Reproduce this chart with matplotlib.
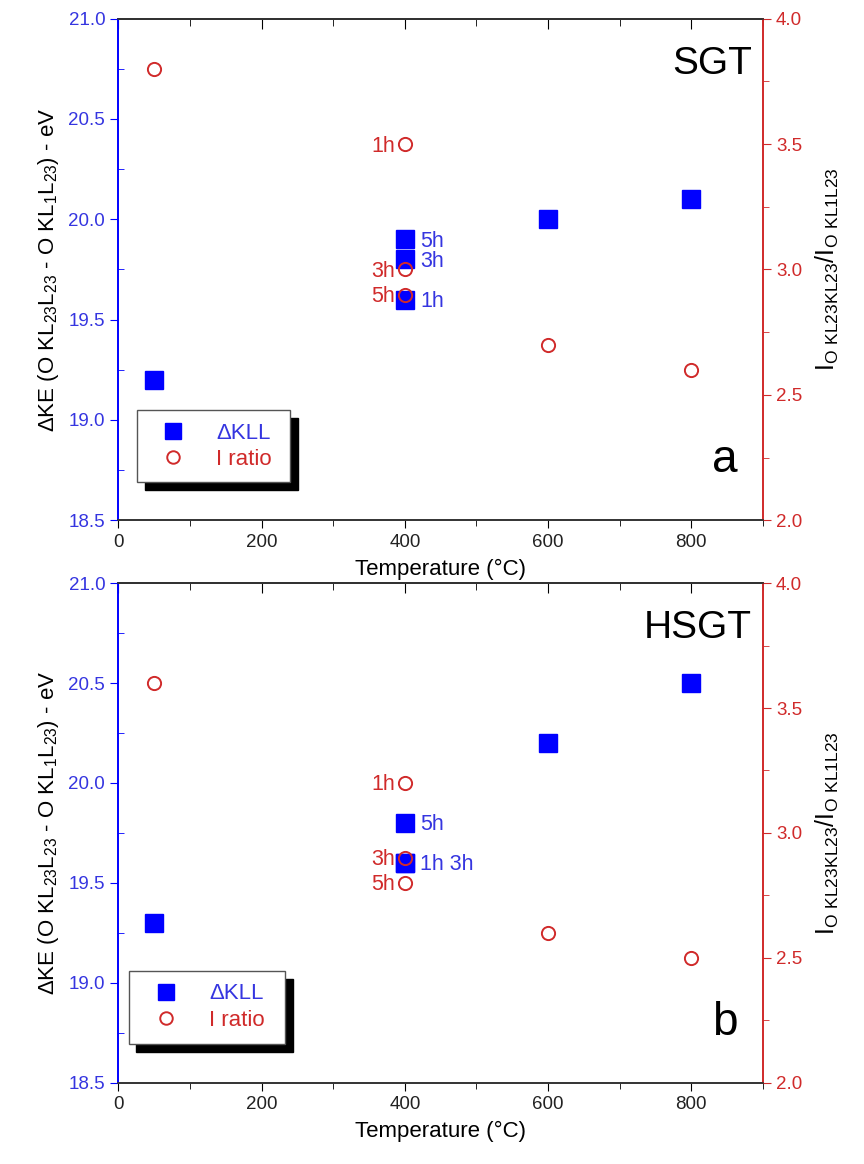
import matplotlib
matplotlib.use('Agg')
import matplotlib.pyplot as plt
import matplotlib.patches as patches
from matplotlib.lines import Line2D
from matplotlib.ticker import MultipleLocator, FormatStrFormatter

plt.rcParams['font.family'] = ['Liberation Sans', 'DejaVu Sans']
plt.rcParams['mathtext.default'] = 'regular'

BLUE = '#0000ff'
BLUE_TXT = '#3535e0'
RED = '#d02a2a'

# data
temps = [50, 400, 400, 400, 600, 800]
kll_sgt = [19.2, 19.9, 19.8, 19.6, 20.0, 20.1]
ratio_sgt = [3.8, 3.5, 3.0, 2.9, 2.7, 2.6]
kll_hsgt = [19.3, 19.8, 19.6, 19.6, 20.2, 20.5]
ratio_hsgt = [3.6, 3.2, 2.9, 2.8, 2.6, 2.5]

# time labels at 400 C: (value, text)
kll_lab_sgt = [(19.9, '5h'), (19.8, '3h'), (19.6, '1h')]
ratio_lab_sgt = [(3.5, '1h'), (3.0, '3h'), (2.9, '5h')]
kll_lab_hsgt = [(19.8, '5h'), (19.6, '1h 3h')]
ratio_lab_hsgt = [(3.2, '1h'), (2.9, '3h'), (2.8, '5h')]

fig = plt.figure(figsize=(8.64, 11.64), dpi=100)


def panel(rect, kll, ratio, kll_lab, ratio_lab, name, letter, leg_box):
    ax = fig.add_axes(rect)
    ax2 = ax.twinx()

    ax.plot(temps, kll, 's', color=BLUE, ms=13, ls='none', zorder=3)
    ax2.plot(temps, ratio, 'o', mfc='none', mec=RED, mew=1.4, ms=9.5, ls='none', zorder=4)

    for v, t in kll_lab:
        ax.annotate(t, (400, v), xytext=(11, -1.5), textcoords='offset points',
                    ha='left', va='center', color=BLUE_TXT, fontsize=15.5)
    for v, t in ratio_lab:
        ax2.annotate(t, (400, v), xytext=(-7, -1.5), textcoords='offset points',
                     ha='right', va='center', color=RED, fontsize=15.5)

    ax.set_xlim(0, 900)
    ax.set_ylim(18.5, 21.0)
    ax2.set_ylim(2.0, 4.0)

    ax.xaxis.set_major_locator(MultipleLocator(200))
    ax.xaxis.set_minor_locator(MultipleLocator(100))
    ax.yaxis.set_major_locator(MultipleLocator(0.5))
    ax.yaxis.set_minor_locator(MultipleLocator(0.25))
    ax.yaxis.set_major_formatter(FormatStrFormatter('%.1f'))
    ax2.yaxis.set_major_locator(MultipleLocator(0.5))
    ax2.yaxis.set_minor_locator(MultipleLocator(0.25))
    ax2.yaxis.set_major_formatter(FormatStrFormatter('%.1f'))

    # bottom ticks out, top ticks in (drawn through a secondary x axis)
    ax.tick_params(axis='x', which='both', direction='out', labelsize=13.5,
                   labelcolor='#222222')
    ax.tick_params(axis='x', which='major', length=6)
    ax.tick_params(axis='x', which='minor', length=4)
    top = ax.secondary_xaxis('top')
    top.xaxis.set_major_locator(MultipleLocator(200))
    top.xaxis.set_minor_locator(MultipleLocator(100))
    top.tick_params(axis='x', which='both', direction='in', labeltop=False)
    top.tick_params(axis='x', which='major', length=7)
    top.tick_params(axis='x', which='minor', length=5)
    top.spines['top'].set_color('#333333')
    top.spines['top'].set_linewidth(1.2)

    ax.tick_params(axis='y', which='both', colors=BLUE, labelcolor=BLUE_TXT, labelsize=13.5)
    ax.tick_params(axis='y', which='major', length=6, direction='out')
    ax.tick_params(axis='y', which='minor', length=4, direction='in')
    ax2.tick_params(axis='y', which='both', colors=RED, labelcolor=RED, labelsize=13.5,
                    direction='out')
    ax2.tick_params(axis='y', which='major', length=6)
    ax2.tick_params(axis='y', which='minor', length=4)

    for a in (ax, ax2):
        a.spines['left'].set_color(BLUE)
        a.spines['right'].set_color(RED)
        a.spines['top'].set_color('#333333')
        a.spines['bottom'].set_color('#333333')
        for s in a.spines.values():
            s.set_linewidth(1.2)

    ax.set_xlabel('Temperature (°C)', fontsize=16, labelpad=6)
    ax.set_ylabel(r'$\Delta$KE (O KL$_{23}$L$_{23}$ - O KL$_{1}$L$_{23}$) - eV',
                  fontsize=16, labelpad=5)
    ax2.set_ylabel(r'I$_{O\ KL23KL23}$/I$_{O\ KL1L23}$', fontsize=18, labelpad=8)

    ax2.text(0.983, 0.91, name, transform=ax2.transAxes, ha='right', va='center',
             fontsize=28)
    ax2.text(0.96, 0.12, letter, transform=ax2.transAxes, ha='right', va='center',
             fontsize=33)

    # legend box with hard black shadow
    x0, y0, w, h = leg_box
    ax2.add_patch(patches.Rectangle((x0 + 0.012, y0 - 0.016), w, h, transform=ax2.transAxes,
                                    facecolor='black', edgecolor='black', zorder=8,
                                    clip_on=False))
    ax2.add_patch(patches.Rectangle((x0, y0), w, h, transform=ax2.transAxes,
                                    facecolor='white', edgecolor='#555555', lw=1.0, zorder=9,
                                    clip_on=False))
    handles = [Line2D([], [], marker='s', color=BLUE, ls='none', ms=12),
               Line2D([], [], marker='o', mfc='none', mec=RED, mew=1.4, ms=9, ls='none')]
    leg = ax2.legend(handles, ['ΔKLL', 'I ratio'], loc='center',
                     bbox_to_anchor=(x0 + w / 2, y0 + h / 2), bbox_transform=ax2.transAxes,
                     frameon=False, fontsize=16, handletextpad=1.2, labelspacing=0.25,
                     handlelength=1.5)
    leg.set_zorder(10)
    leg.get_texts()[0].set_color(BLUE_TXT)
    leg.get_texts()[1].set_color(RED)
    return ax, ax2


panel([0.137, 0.553, 0.746, 0.431], kll_sgt, ratio_sgt, kll_lab_sgt, ratio_lab_sgt,
      'SGT', 'a', (0.029, 0.076, 0.238, 0.143))
panel([0.137, 0.070, 0.746, 0.429], kll_hsgt, ratio_hsgt, kll_lab_hsgt, ratio_lab_hsgt,
      'HSGT', 'b', (0.016, 0.078, 0.243, 0.146))

fig.savefig('out.png', dpi=100)
